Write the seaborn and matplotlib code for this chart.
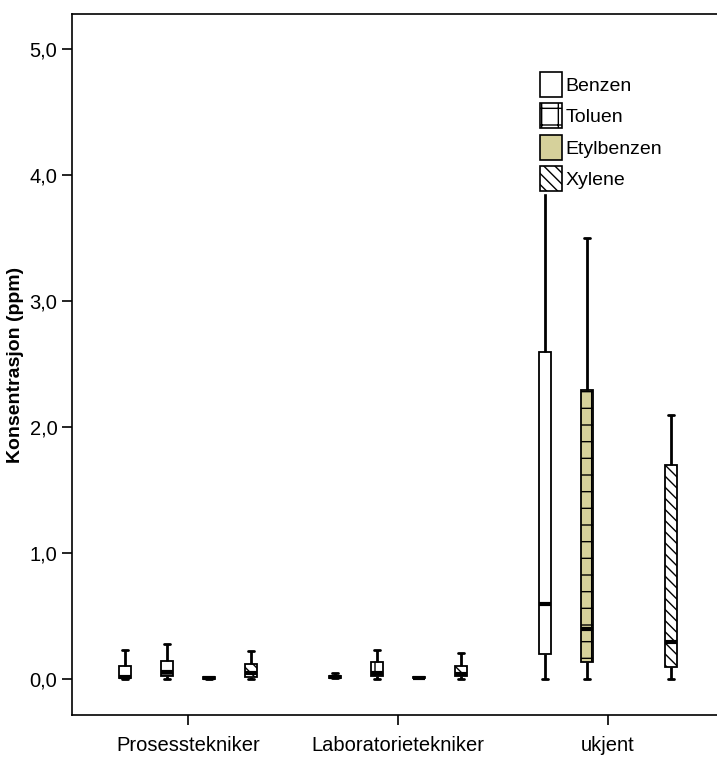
import matplotlib
matplotlib.use("Agg")
import matplotlib.pyplot as plt
import seaborn as sns
import pandas as pd
from matplotlib.patches import Patch
from matplotlib.colors import to_hex

# ---- data (five-number summaries) ----
groups = ["Prosesstekniker", "Laboratorietekniker", "ukjent"]
substances = ["Benzen", "Toluen", "Etylbenzen", "Xylene"]

prosess_benzen = [0.0, 0.01, 0.02, 0.11, 0.23]
prosess_toluen = [0.0, 0.03, 0.06, 0.146, 0.28]
prosess_etyl = [0.0, 0.005, 0.01, 0.015, 0.02]
prosess_xylene = [0.0, 0.02, 0.05, 0.12, 0.225]

lab_benzen = [0.01, 0.01, 0.02, 0.03, 0.05]
lab_toluen = [0.0, 0.03, 0.05, 0.14, 0.23]
lab_etyl = [0.01, 0.012, 0.013, 0.015, 0.015]
lab_xylene = [0.0, 0.03, 0.04, 0.11, 0.21]

ukjent_benzen = [0.0, 0.2, 0.6, 2.6, 4.3]
ukjent_toluen = [0.0, 0.14, 0.4, 2.3, 3.5]
ukjent_xylene = [0.0, 0.1, 0.3, 1.7, 2.1]

yticks = [0, 1, 2, 3, 4, 5]
ytick_labels = ["0,0", "1,0", "2,0", "3,0", "4,0", "5,0"]

series = [
    ("Prosesstekniker", "Benzen", prosess_benzen),
    ("Prosesstekniker", "Toluen", prosess_toluen),
    ("Prosesstekniker", "Etylbenzen", prosess_etyl),
    ("Prosesstekniker", "Xylene", prosess_xylene),
    ("Laboratorietekniker", "Benzen", lab_benzen),
    ("Laboratorietekniker", "Toluen", lab_toluen),
    ("Laboratorietekniker", "Etylbenzen", lab_etyl),
    ("Laboratorietekniker", "Xylene", lab_xylene),
    ("ukjent", "Benzen", ukjent_benzen),
    ("ukjent", "Toluen", ukjent_toluen),
    ("ukjent", "Xylene", ukjent_xylene),
]
rows = []
for g, s, vals in series:
    for v in vals:
        rows.append({"Gruppe": g, "Stoff": s, "ppm": v})
df = pd.DataFrame(rows)

# ---- styling ----
sns.set_theme(style="white")
plt.rcParams["font.family"] = ["Liberation Sans", "DejaVu Sans"]
plt.rcParams["hatch.linewidth"] = 1.0
for k in ["text.color", "axes.labelcolor", "xtick.color", "ytick.color"]:
    plt.rcParams[k] = "black"

tan = "#d6d19b"
temp_palette = {"Benzen": "#ff0000", "Toluen": "#00ff00",
                "Etylbenzen": "#0000ff", "Xylene": "#ffff00"}
style = {
    "Benzen": dict(face="white", hatch=None),
    "Toluen": dict(face="white", hatch="+"),
    "Etylbenzen": dict(face=tan, hatch=None),
    "Xylene": dict(face="white", hatch="\\\\\\"),
}

fig = plt.figure(figsize=(7.17, 7.61), dpi=100)
ax = fig.add_axes([0.1004, 0.0604, 0.8996, 0.9212])

sns.boxplot(data=df, x="Gruppe", y="ppm", hue="Stoff", order=groups,
            hue_order=substances, palette=temp_palette, saturation=1,
            linecolor="black", linewidth=1.3, gap=0.7, whis=1.5,
            medianprops=dict(linewidth=3, color="black"),
            whiskerprops=dict(linewidth=2),
            capprops=dict(linewidth=2),
            showfliers=False, legend=False, ax=ax)

col2name = {to_hex(c): n for n, c in temp_palette.items()}
for p in ax.patches:
    fc = to_hex(p.get_facecolor())
    name = col2name.get(fc)
    if name is None:
        continue
    st = style[name]
    face = st["face"]
    xc = p.get_path().vertices[:, 0].mean()
    if name == "Toluen" and xc > 1.5:
        face = tan
    p.set_facecolor(face)
    p.set_edgecolor("black")
    if st["hatch"]:
        p.set_hatch(st["hatch"])

ax.set_xlim(-0.552, 2.519)
ax.set_ylim(-0.283, 5.28)
ax.set_yticks(yticks)
ax.set_yticklabels(ytick_labels)
ax.set_xlabel("")
ax.set_ylabel("Konsentrasjon (ppm)", fontsize=14, fontweight="bold", labelpad=4)
ax.tick_params(axis="both", which="both", direction="out", length=7,
               width=1.2, color="black", labelsize=14.5, labelcolor="black",
               left=True, bottom=True)
ax.tick_params(axis="x", pad=8)
for side in ["left", "top", "bottom"]:
    ax.spines[side].set_visible(True)
    ax.spines[side].set_color("black")
    ax.spines[side].set_linewidth(1.2)
ax.spines["right"].set_visible(False)
ax.grid(False)

handles = [Patch(facecolor=style[s]["face"], edgecolor="black",
                 hatch=style[s]["hatch"], linewidth=1.2, label=s)
           for s in substances]
leg = ax.legend(handles=handles, loc="upper left", bbox_to_anchor=(0.7225, 0.92),
                frameon=True, fontsize=14, handlelength=1.12, handleheight=1.6,
                handletextpad=0.2, labelspacing=0.33, borderpad=0.1,
                borderaxespad=0)
frame = leg.get_frame()
frame.set_edgecolor("white")
frame.set_facecolor("white")
frame.set_alpha(1)
frame.set_boxstyle("square", pad=0)

fig.savefig("out.png", dpi=100)
